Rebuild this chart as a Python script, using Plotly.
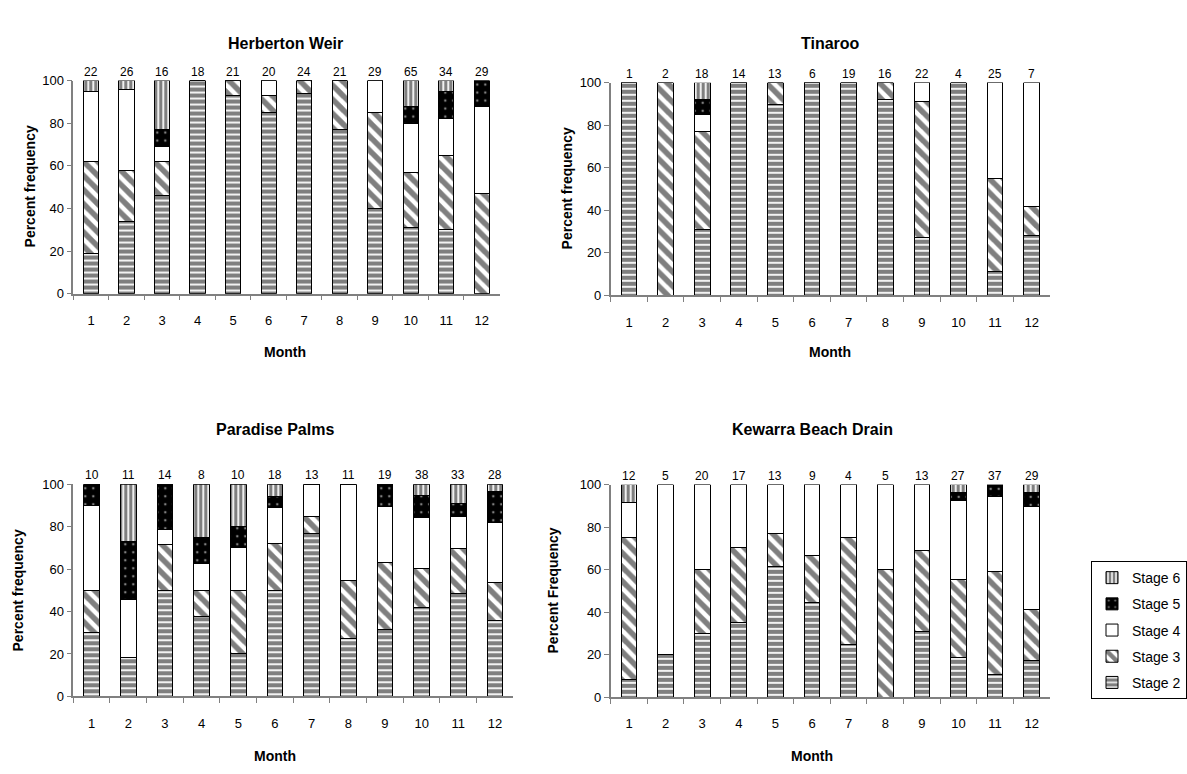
import plotly.graph_objects as go

W, H = 1187, 774
MONTHS = [str(m) for m in range(1, 13)]
STAGES = ["Stage 2", "Stage 3", "Stage 4", "Stage 5", "Stage 6"]

# Herberton Weir (percent per stage)
herb_s2 = [19, 34, 46, 100, 93, 85, 94, 77, 40, 31, 30, 0]
herb_s3 = [43, 24, 16, 0, 7, 8, 6, 23, 45, 26, 35, 47]
herb_s4 = [33, 38, 7, 0, 0, 7, 0, 0, 15, 23, 17, 41]
herb_s5 = [0, 0, 8, 0, 0, 0, 0, 0, 0, 8, 13, 12]
herb_s6 = [5, 4, 23, 0, 0, 0, 0, 0, 0, 12, 5, 0]
herb_n = [22, 26, 16, 18, 21, 20, 24, 21, 29, 65, 34, 29]

# Tinaroo
tin_s2 = [100, 0, 31, 100, 90, 100, 100, 92, 27, 100, 11, 28]
tin_s3 = [0, 100, 46, 0, 10, 0, 0, 8, 64, 0, 44, 14]
tin_s4 = [0, 0, 8, 0, 0, 0, 0, 0, 9, 0, 45, 58]
tin_s5 = [0, 0, 7, 0, 0, 0, 0, 0, 0, 0, 0, 0]
tin_s6 = [0, 0, 8, 0, 0, 0, 0, 0, 0, 0, 0, 0]
tin_n = [1, 2, 18, 14, 13, 6, 19, 16, 22, 4, 25, 7]

# Paradise Palms
par_s2 = [30, 18.2, 50, 37.5, 20, 50, 76.9, 27.3, 31.6, 42.1, 48.5, 35.7]
par_s3 = [20, 0, 21.4, 12.5, 30, 22.2, 7.7, 27.2, 31.6, 18.4, 21.2, 17.9]
par_s4 = [40, 27.3, 7.2, 12.5, 20, 16.7, 15.4, 45.5, 26.3, 23.7, 15.2, 28.5]
par_s5 = [10, 27.3, 21.4, 12.5, 10, 5.5, 0, 0, 10.5, 10.5, 6.0, 14.3]
par_s6 = [0, 27.2, 0, 25, 20, 5.6, 0, 0, 0, 5.3, 9.1, 3.6]
par_n = [10, 11, 14, 8, 10, 18, 13, 11, 19, 38, 33, 28]

# Kewarra Beach Drain
kew_s2 = [8.3, 20, 30, 35.3, 61.5, 44.4, 25, 0, 30.8, 18.5, 10.8, 17.2]
kew_s3 = [66.7, 0, 30, 35.3, 15.4, 22.2, 50, 60, 38.4, 37, 48.6, 24.1]
kew_s4 = [16.7, 80, 40, 29.4, 23.1, 33.4, 25, 40, 30.8, 37.1, 35.2, 48.4]
kew_s5 = [0, 0, 0, 0, 0, 0, 0, 0, 0, 3.7, 5.4, 6.9]
kew_s6 = [8.3, 0, 0, 0, 0, 0, 0, 0, 0, 3.7, 0, 3.4]
kew_n = [12, 5, 20, 17, 13, 9, 4, 5, 13, 27, 37, 29]

PATTERNS = {
    "Stage 2": dict(shape="-", fgcolor="black", bgcolor="white", size=6, solidity=0.7),
    "Stage 3": dict(shape="\\", fgcolor="black", bgcolor="white", size=10, solidity=0.55),
    "Stage 4": dict(shape="", fgcolor="white", bgcolor="white"),
    "Stage 5": dict(shape=".", fgcolor="white", bgcolor="black", size=8, solidity=0.08),
    "Stage 6": dict(shape="|", fgcolor="black", bgcolor="white", size=5, solidity=0.65),
}
BASE = {"Stage 4": "white", "Stage 5": "black"}
RANK = {"Stage 6": 1, "Stage 5": 2, "Stage 4": 3, "Stage 3": 4, "Stage 2": 5}


def px(x):
    return x / W


def py(y):
    return 1 - y / H


panels = [
    dict(name="Herberton Weir", data=[herb_s2, herb_s3, herb_s4, herb_s5, herb_s6], n=herb_n,
         xd=[px(73.3), px(499.5)], yd=[py(292.3), py(75)],
         title=(285, 37), ytitle=("Percent frequency", 30, 183), xtitle=(285, 352)),
    dict(name="Tinaroo", data=[tin_s2, tin_s3, tin_s4, tin_s5, tin_s6], n=tin_n,
         xd=[px(610.7), px(1050)], yd=[py(294), py(77.3)],
         title=(830, 37), ytitle=("Percent frequency", 567, 185), xtitle=(830, 352)),
    dict(name="Paradise Palms", data=[par_s2, par_s3, par_s4, par_s5, par_s6], n=par_n,
         xd=[px(73.3), px(513.3)], yd=[py(703), py(486.7)],
         title=(275, 431), ytitle=("Percent frequency", 18, 595), xtitle=(275, 764)),
    dict(name="Kewarra Beach Drain", data=[kew_s2, kew_s3, kew_s4, kew_s5, kew_s6], n=kew_n,
         xd=[px(610.7), px(1050)], yd=[py(703.7), py(487.3)],
         title=(812, 431), ytitle=("Percent Frequency", 553, 595), xtitle=(812, 764)),
]

FONT = "Liberation Sans, Arial, sans-serif"
fig = go.Figure()
annotations = []
layout = {}

for i, p in enumerate(panels):
    k = "" if i == 0 else str(i + 1)
    xa, ya = "x" + k, "y" + k
    for si, stage in enumerate(STAGES):
        fig.add_trace(go.Bar(
            x=MONTHS, y=p["data"][si], name=stage, xaxis=xa, yaxis=ya,
            legendgroup=stage, showlegend=(i == 0), legendrank=RANK[stage],
            marker=dict(color=BASE.get(stage, "white"),
                        line=dict(color="black", width=1),
                        pattern=PATTERNS[stage]),
            hoverinfo="x+y+name",
        ))
    layout["xaxis" + k] = dict(
        domain=p["xd"], anchor=ya, type="category", range=[-0.5, 11.5],
        showline=True, linecolor="#808080",
        linewidth=1.5, ticks="outside", tickson="boundaries", ticklen=5, tickcolor="#808080",
        tickfont=dict(size=13, color="black", family=FONT), showgrid=False, zeroline=False,
        ticklabelstandoff=14,
    )
    layout["yaxis" + k] = dict(
        domain=p["yd"], anchor=xa, range=[0, 100], tickvals=[0, 20, 40, 60, 80, 100],
        showline=True, linecolor="#808080", linewidth=1.5, ticks="outside", ticklen=5,
        tickcolor="#808080", tickfont=dict(size=13, color="black", family=FONT),
        showgrid=False, zeroline=False,
    )
    for mi, n in enumerate(p["n"]):
        annotations.append(dict(x=mi, y=100, xref=xa, yref=ya, text=str(n), showarrow=False,
                                yanchor="bottom", yshift=0,
                                font=dict(size=12, color="black", family=FONT)))
    tx, ty = p["title"]
    annotations.append(dict(x=px(tx), y=py(ty), xref="paper", yref="paper", text="<b>%s</b>" % p["name"],
                            showarrow=False, xanchor="center", yanchor="middle",
                            font=dict(size=16, color="black", family=FONT)))
    yt, yx, yy = p["ytitle"]
    annotations.append(dict(x=px(yx), y=py(yy), xref="paper", yref="paper", text="<b>%s</b>" % yt,
                            showarrow=False, textangle=-90, xanchor="center", yanchor="middle",
                            font=dict(size=14, color="black", family=FONT)))
    mx, my = p["xtitle"]
    annotations.append(dict(x=px(mx), y=py(my), xref="paper", yref="paper", text="<b>Month</b>",
                            showarrow=False, xanchor="center", yanchor="middle",
                            font=dict(size=14, color="black", family=FONT)))

fig.update_layout(
    width=W, height=H, margin=dict(l=0, r=0, t=0, b=0),
    paper_bgcolor="white", plot_bgcolor="white",
    barmode="stack", bargap=0.57,
    font=dict(family=FONT, color="black"),
    annotations=annotations,
    legend=dict(x=px(1091), y=py(565), xanchor="left", yanchor="top",
                bordercolor="black", borderwidth=1, bgcolor="white",
                traceorder="grouped", tracegroupgap=5, itemwidth=30,
                font=dict(size=14, color="black", family=FONT)),
    **layout,
)

fig.write_html("out.html")
